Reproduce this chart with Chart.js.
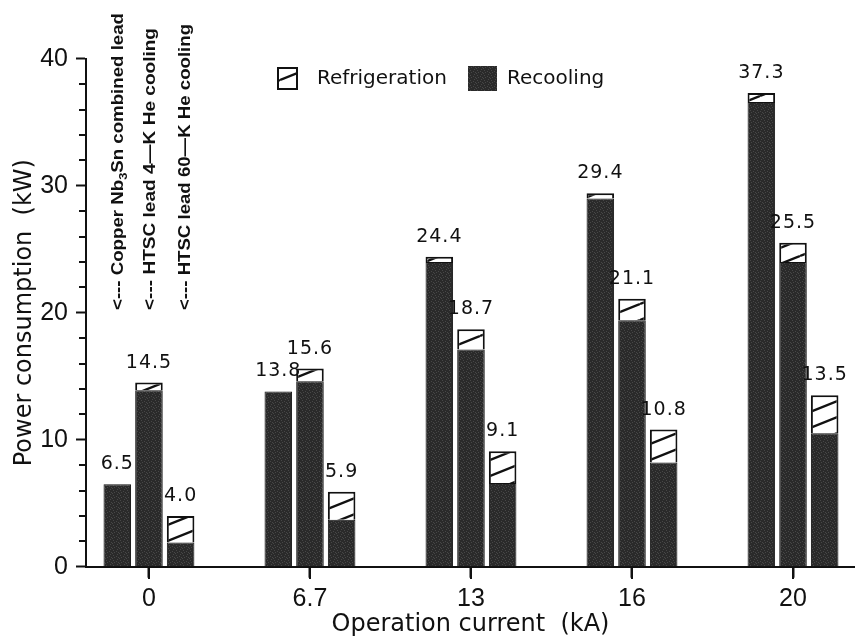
<!DOCTYPE html>
<html>
<head>
<meta charset="utf-8">
<title>Power consumption of current leads</title>
<script src="https://cdn.jsdelivr.net/npm/chart.js@4.4.1/dist/chart.umd.min.js"></script>
<style>
  html, body { margin: 0; padding: 0; background: #fff; }
  #wrap { width: 855px; height: 639px; position: relative; }
</style>
</head>
<body>
<div id="wrap"><canvas id="chart"></canvas></div>
<script>
// Operation current categories (kA)
const currents = ['0', '6.7', '13', '16', '20'];

// Power consumption (kW), split into recooling (bottom) and refrigeration (top)
const copperRecooling  = [6.5, 13.8, 24.0, 29.0, 36.6];
const copperRefrig     = [0.0, 0.0, 0.4, 0.4, 0.7];
const htsc4KRecooling  = [13.9, 14.6, 17.1, 19.4, 24.0];
const htsc4KRefrig     = [0.6, 1.0, 1.6, 1.7, 1.5];
const htsc60KRecooling = [1.9, 3.7, 6.6, 8.2, 10.5];
const htsc60KRefrig    = [2.1, 2.2, 2.5, 2.6, 3.0];

// Labelled y ticks and the minor tick step
const yMajorTicks = [0, 10, 20, 30, 40];
const yMinorStep = 2;

// Lead types, drawn as vertical notes above the first group
const leadNotes = [
  [{ t: '<--- Copper Nb' }, { t: '3', sub: true }, { t: 'Sn combined lead' }],
  [{ t: '<--- HTSC lead 4\u2014K He cooling' }],
  [{ t: '<--- HTSC lead 60\u2014K He cooling' }]
];

const INK = '#111';

function makeHatch() {
  const W = 40, H = 16;
  const c = document.createElement('canvas');
  c.width = W; c.height = H;
  const g = c.getContext('2d');
  g.fillStyle = '#fff';
  g.fillRect(0, 0, W, H);
  g.strokeStyle = INK;
  g.lineWidth = 2.4;
  for (const dy of [-H, 0, H]) {
    g.beginPath();
    g.moveTo(0, H + dy);
    g.lineTo(W, dy);
    g.stroke();
  }
  return g.createPattern(c, 'repeat');
}

function makeDark() {
  const W = 7, H = 5;
  const c = document.createElement('canvas');
  c.width = W; c.height = H;
  const g = c.getContext('2d');
  g.fillStyle = '#2a2a2a';
  g.fillRect(0, 0, W, H);
  g.fillStyle = '#474747';
  [[1, 0], [4, 1], [0, 3], [5, 4], [2, 2], [6, 2]].forEach(([x, y]) => g.fillRect(x, y, 1, 1));
  return g.createPattern(c, 'repeat');
}

const hatchFill = makeHatch();
const darkFill = makeDark();

function stackPair(recooling, refrig, stack) {
  return [
    {
      label: 'Recooling',
      stack,
      data: recooling.map((v, i) => ({ x: i, y: v })),
      backgroundColor: darkFill,
      borderColor: INK,
      borderWidth: 1,
      borderSkipped: 'start'
    },
    {
      label: 'Refrigeration',
      stack,
      data: refrig.map((v, i) => ({ x: i, y: v })),
      backgroundColor: hatchFill,
      borderColor: INK,
      borderWidth: c => (c.raw && c.raw.y > 0 ? 2 : 0),
      borderSkipped: 'start'
    }
  ];
}

// Tick marks: short minor ticks on the power axis, downward ticks on the current axis
const axisMarks = {
  id: 'axisMarks',
  afterDraw(chart) {
    const y = chart.scales.y;
    const x = chart.scales.x;
    const area = chart.chartArea;
    const ctx = chart.ctx;
    ctx.save();
    ctx.fillStyle = INK;
    for (let v = y.min; v <= y.max; v += yMinorStep) {
      if (yMajorTicks.includes(v)) continue;
      const py = Math.round(y.getPixelForValue(v));
      ctx.fillRect(area.left - 7, py - 1, 7, 2);
    }
    for (let i = 0; i < currents.length; i++) {
      const px = Math.round(x.getPixelForValue(i));
      ctx.fillRect(px - 1, Math.round(area.bottom), 2, 12);
    }
    ctx.restore();
  }
};

// Stack totals written above each bar
const totalLabels = {
  id: 'totalLabels',
  afterDatasetsDraw(chart) {
    const ctx = chart.ctx;
    ctx.save();
    ctx.font = '19px "DejaVu Sans"';
    ctx.letterSpacing = '1px';
    ctx.fillStyle = INK;
    ctx.textAlign = 'center';
    ctx.textBaseline = 'alphabetic';
    for (let d = 0; d < chart.data.datasets.length; d += 2) {
      const rec = chart.data.datasets[d].data;
      const ref = chart.data.datasets[d + 1].data;
      const meta = chart.getDatasetMeta(d + 1);
      meta.data.forEach((el, i) => {
        const total = rec[i].y + ref[i].y;
        ctx.fillText(total.toFixed(1), el.x, el.y - 15);
      });
    }
    ctx.restore();
  }
};

// Legend inside the plot and the vertical lead notes
const notesAndLegend = {
  id: 'notesAndLegend',
  afterDraw(chart) {
    const ctx = chart.ctx;
    ctx.save();

    // legend
    ctx.lineWidth = 2;
    ctx.strokeStyle = INK;
    ctx.fillStyle = hatchFill;
    ctx.fillRect(278, 68, 19, 21);
    ctx.strokeRect(278, 68, 19, 21);
    ctx.fillStyle = darkFill;
    ctx.fillRect(468, 66, 29, 25);
    ctx.font = '20px "DejaVu Sans"';
    ctx.fillStyle = INK;
    ctx.textAlign = 'left';
    ctx.textBaseline = 'middle';
    ctx.fillText('Refrigeration', 317, 79);
    ctx.fillText('Recooling', 507, 79);

    // vertical notes, one per bar of the first group
    const lengths = [297, 282, 286];
    const shifts = [1.5, 2, 4.5];
    const mainFont = 'bold 16px "Liberation Sans"';
    const subFont = 'bold 11px "Liberation Sans"';
    leadNotes.forEach((parts, k) => {
      const el = chart.getDatasetMeta(k * 2).data[0];
      let total = 0;
      parts.forEach(p => {
        ctx.font = p.sub ? subFont : mainFont;
        p.w = ctx.measureText(p.t).width;
        total += p.w;
      });
      ctx.save();
      ctx.translate(el.x + shifts[k], 310);
      ctx.rotate(-Math.PI / 2);
      ctx.scale(lengths[k] / total, 1);
      ctx.textAlign = 'left';
      ctx.textBaseline = 'middle';
      let cx = 0;
      parts.forEach(p => {
        ctx.font = p.sub ? subFont : mainFont;
        ctx.fillText(p.t, cx, p.sub ? 5 : 0);
        cx += p.w;
      });
      ctx.restore();
    });
    ctx.restore();
  }
};

new Chart(document.getElementById('chart'), {
  type: 'bar',
  data: {
    datasets: [
      ...stackPair(copperRecooling, copperRefrig, 'copper'),
      ...stackPair(htsc4KRecooling, htsc4KRefrig, 'htsc4K'),
      ...stackPair(htsc60KRecooling, htsc60KRefrig, 'htsc60K')
    ]
  },
  options: {
    responsive: true,
    maintainAspectRatio: false,
    animation: false,
    categoryPercentage: 0.59,
    barPercentage: 0.87,
    layout: { padding: { top: 58.7, right: 0, bottom: 0, left: 0 } },
    plugins: {
      legend: { display: false },
      tooltip: { enabled: false }
    },
    scales: {
      x: {
        type: 'linear',
        min: -0.391,
        max: 4.385,
        offset: false,
        afterBuildTicks: s => { s.ticks = currents.map((_, i) => ({ value: i })); },
        afterFit: s => { s.height = 72.3; },
        grid: { offset: false, drawOnChartArea: false, drawTicks: true, tickLength: 11, tickWidth: 2, tickColor: INK },
        border: { display: true, color: INK, width: 2 },
        ticks: {
          callback: v => (currents[v] !== undefined ? currents[v] : ''),
          font: { family: '"Liberation Sans"', size: 25 },
          color: INK,
          padding: 6,
          maxRotation: 0,
          autoSkip: false
        },
        title: {
          display: true,
          text: 'Operation current  (kA)',
          font: { family: '"DejaVu Sans"', size: 24, lineHeight: 1.2 },
          color: INK,
          padding: { top: 0, bottom: 0 }
        }
      },
      y: {
        stacked: true,
        min: 0,
        max: 40,
        afterBuildTicks: s => { s.ticks = yMajorTicks.map(v => ({ value: v })); },
        afterFit: s => { s.width = 86; },
        grid: { drawOnChartArea: false, drawTicks: true, tickLength: 10, tickWidth: 2, tickColor: INK },
        border: { display: true, color: INK, width: 2 },
        ticks: {
          font: { family: '"Liberation Sans"', size: 25 },
          color: INK,
          padding: 8
        },
        title: {
          display: true,
          text: 'Power consumption  (kW)',
          font: { family: '"DejaVu Sans"', size: 24, lineHeight: 1.2 },
          color: INK,
          padding: { top: 10, bottom: 0 }
        }
      }
    }
  },
  plugins: [axisMarks, totalLabels, notesAndLegend]
});
</script>
</body>
</html>
